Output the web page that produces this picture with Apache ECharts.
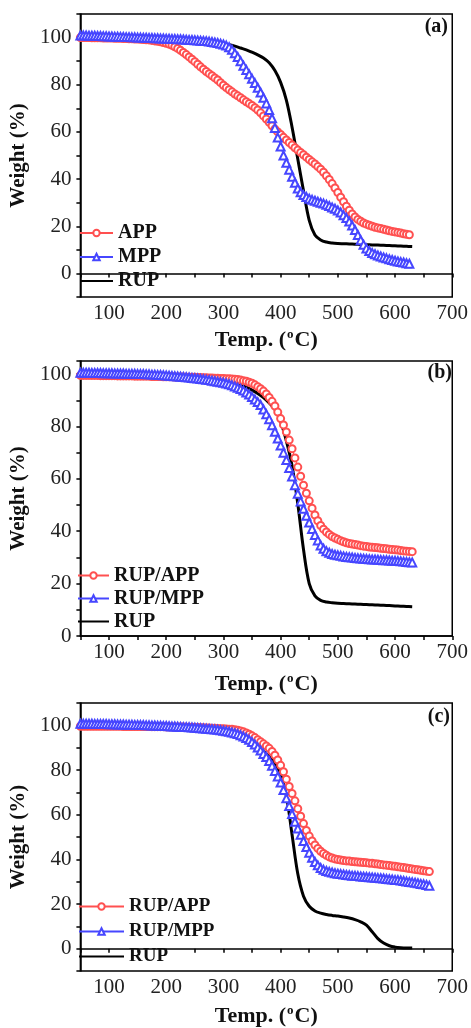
<!DOCTYPE html>
<html>
<head>
<meta charset="utf-8">
<script src="https://cdn.jsdelivr.net/npm/echarts@6/dist/echarts.min.js"></script>
<style>html,body{margin:0;padding:0;background:#fff}#c{width:471px;height:1028px}</style>
</head>
<body>
<div id="c"></div>
<script>
// Temperature grids (°C)
var temps5 = [50,55,60,65,70,75,80,85,90,95,100,105,110,115,120,125,130,135,140,145,150,155,160,165,170,175,180,185,190,195,200,205,210,215,220,225,230,235,240,245,250,255,260,265,270,275,280,285,290,295,300,305,310,315,320,325,330,335,340,345,350,355,360,365,370,375,380,385,390,395,400,405,410,415,420,425,430,435,440,445,450,455,460,465,470,475,480,485,490,495,500,505,510,515,520,525,530,535,540,545,550,555,560,565,570,575,580,585,590,595,600,605,610,615,620,625,630,635,640,645,650,655,660];
var temps10 = [50,60,70,80,90,100,110,120,130,140,150,160,170,180,190,200,210,220,230,240,250,260,270,280,290,300,310,320,330,340,350,360,370,380,390,400,410,420,430,440,450,460,470,480,490,500,510,520,530,540,550,560,570,580,590,600,610,620,630];

// Panel (a)
var aAPP = [100.0,100.0,100.0,100.0,99.9,99.9,99.9,99.9,99.8,99.8,99.8,99.8,99.7,99.7,99.7,99.6,99.6,99.5,99.5,99.4,99.4,99.3,99.2,99.1,99.0,98.8,98.6,98.4,98.2,97.9,97.6,97.2,96.7,96.1,95.4,94.6,93.7,92.8,91.8,90.8,89.8,88.7,87.6,86.6,85.6,84.7,83.8,82.9,82.0,80.9,79.8,78.8,77.9,77.0,76.1,75.3,74.5,73.6,72.8,72.0,71.2,70.3,69.3,68.1,66.8,65.5,64.1,62.6,61.2,60.0,58.9,57.7,56.6,55.5,54.4,53.3,52.3,51.3,50.3,49.3,48.3,47.3,46.4,45.3,44.2,42.9,41.4,39.8,38.1,36.2,34.3,32.3,30.4,28.5,26.8,25.2,23.9,22.9,22.1,21.4,20.9,20.4,20.0,19.6,19.3,19.0,18.7,18.4,18.1,17.8,17.6,17.4,17.1,16.8,16.6,16.4];
var aMPP = [100.9,100.9,100.9,100.8,100.8,100.8,100.7,100.7,100.6,100.6,100.5,100.5,100.4,100.4,100.3,100.3,100.2,100.2,100.1,100.1,100.0,100.0,99.9,99.9,99.8,99.8,99.7,99.7,99.6,99.6,99.5,99.5,99.4,99.4,99.3,99.3,99.2,99.1,99.0,99.0,98.9,98.8,98.7,98.6,98.5,98.3,98.1,97.9,97.7,97.4,97.1,96.6,95.9,94.8,93.4,91.8,90.0,88.1,86.3,84.4,82.5,80.7,78.7,76.7,74.5,72.1,69.3,65.8,61.7,57.6,53.8,50.0,46.9,44.0,41.0,38.4,36.0,34.4,33.2,32.4,31.7,31.2,30.8,30.4,30.0,29.6,29.1,28.6,28.0,27.4,26.7,25.8,24.7,23.5,22.0,20.3,18.4,16.3,14.1,12.2,10.6,9.5,8.7,8.1,7.6,7.2,6.8,6.4,6.0,5.7,5.4,5.1,4.8,4.6,4.3,4.1];
var aRUP = [100.0,100.0,100.0,99.9,99.9,99.9,99.8,99.8,99.8,99.7,99.7,99.6,99.5,99.4,99.3,99.2,99.1,99.0,98.9,98.7,98.6,98.4,98.2,98.0,97.8,97.5,97.0,96.4,95.6,94.8,93.8,92.7,91.3,89.3,86.0,81.0,73.5,62.0,48.5,35.0,22.5,16.3,14.2,13.3,12.9,12.7,12.6,12.5,12.4,12.3,12.2,12.1,12.0,11.9,11.8,11.7,11.6,11.5,11.4];

// Panel (b)
var bAPP = [99.5,99.5,99.5,99.5,99.5,99.5,99.5,99.4,99.4,99.4,99.4,99.4,99.4,99.3,99.3,99.3,99.3,99.3,99.3,99.2,99.2,99.2,99.2,99.2,99.2,99.1,99.1,99.1,99.1,99.0,99.0,99.0,99.0,98.9,98.9,98.9,98.9,98.8,98.8,98.8,98.8,98.7,98.7,98.6,98.6,98.5,98.5,98.4,98.4,98.3,98.3,98.2,98.2,98.1,98.0,97.9,97.7,97.5,97.3,96.9,96.5,95.9,95.2,94.4,93.5,92.4,91.1,89.6,87.8,85.5,83.0,80.6,77.9,74.8,71.5,68.0,64.5,61.0,57.6,54.5,51.6,48.8,46.2,44.0,42.2,40.8,39.7,38.8,38.0,37.4,36.9,36.4,36.0,35.6,35.3,35.1,34.9,34.7,34.5,34.3,34.2,34.0,33.9,33.8,33.7,33.5,33.4,33.3,33.1,33.0,32.9,32.8,32.6,32.5,32.4,32.3,32.2];
var bMPP = [100.5,100.5,100.5,100.5,100.4,100.4,100.4,100.4,100.3,100.3,100.3,100.3,100.2,100.2,100.2,100.2,100.1,100.1,100.1,100.1,100.0,100.0,100.0,99.9,99.9,99.8,99.8,99.7,99.7,99.6,99.5,99.4,99.3,99.2,99.1,99.0,98.9,98.8,98.7,98.5,98.4,98.3,98.1,98.0,97.8,97.7,97.5,97.3,97.1,96.9,96.7,96.4,96.1,95.7,95.3,94.8,94.3,93.7,93.0,92.2,91.3,90.3,89.3,88.2,86.5,84.7,82.8,80.5,78.0,75.4,72.7,70.0,67.2,64.1,60.9,57.6,54.3,51.4,48.6,45.9,43.3,40.9,38.6,36.5,34.6,33.3,32.4,31.8,31.3,31.0,30.8,30.6,30.4,30.2,30.1,30.0,29.8,29.7,29.6,29.5,29.4,29.3,29.2,29.2,29.1,29.0,28.9,28.9,28.8,28.7,28.7,28.6,28.5,28.4,28.3,28.2,28.1];
var bRUP = [99.8,99.8,99.8,99.8,99.7,99.7,99.7,99.6,99.6,99.5,99.5,99.4,99.3,99.3,99.2,99.1,99.0,98.9,98.8,98.7,98.6,98.4,98.2,98.0,97.8,97.5,97.1,96.6,95.9,95.0,93.9,92.6,91.0,89.0,86.5,81.8,74.5,65.0,50.5,33.0,20.0,15.3,13.6,13.0,12.7,12.5,12.4,12.3,12.2,12.1,12.0,11.9,11.8,11.7,11.6,11.5,11.4,11.3,11.2];

// Panel (c)
var cAPP = [99.6,99.6,99.6,99.6,99.6,99.6,99.6,99.6,99.6,99.6,99.6,99.6,99.6,99.6,99.6,99.5,99.5,99.5,99.5,99.5,99.5,99.5,99.5,99.5,99.5,99.4,99.4,99.4,99.4,99.4,99.3,99.3,99.3,99.3,99.2,99.2,99.2,99.1,99.1,99.1,99.0,99.0,98.9,98.9,98.8,98.8,98.7,98.7,98.6,98.5,98.5,98.4,98.3,98.2,98.0,97.8,97.5,97.1,96.6,96.0,95.3,94.5,93.6,92.7,91.7,90.8,89.7,88.3,86.6,84.5,82.1,79.2,75.9,72.6,69.5,66.2,62.7,59.3,56.0,52.9,50.4,48.2,46.4,44.9,43.6,42.6,41.8,41.1,40.6,40.2,39.9,39.7,39.5,39.3,39.2,39.0,38.9,38.8,38.7,38.6,38.5,38.3,38.2,38.0,37.9,37.7,37.5,37.4,37.2,37.0,36.9,36.7,36.5,36.3,36.1,35.9,35.7,35.5,35.3,35.1,34.9,34.7,34.5];
var cMPP = [100.7,100.7,100.7,100.7,100.7,100.6,100.6,100.6,100.6,100.6,100.5,100.5,100.5,100.4,100.4,100.4,100.3,100.3,100.3,100.2,100.2,100.1,100.1,100.0,100.0,99.9,99.9,99.8,99.8,99.7,99.7,99.6,99.5,99.5,99.4,99.3,99.2,99.2,99.1,99.0,98.9,98.8,98.7,98.6,98.5,98.4,98.3,98.1,98.0,97.8,97.6,97.4,97.1,96.8,96.5,96.1,95.6,95.0,94.3,93.5,92.5,91.4,90.1,88.7,87.2,85.8,84.0,81.9,79.6,77.1,74.4,71.0,67.3,63.9,60.3,56.8,53.8,51.0,48.2,45.5,43.0,40.7,38.8,37.3,36.1,35.3,34.8,34.4,34.1,33.8,33.6,33.4,33.2,33.0,32.9,32.7,32.6,32.5,32.3,32.2,32.1,32.0,31.9,31.8,31.6,31.5,31.4,31.2,31.1,31.0,30.8,30.7,30.5,30.3,30.1,29.9,29.7,29.5,29.3,29.0,28.8,28.5,28.2];
var cRUP = [99.5,99.5,99.5,99.5,99.4,99.4,99.4,99.3,99.3,99.3,99.2,99.2,99.1,99.1,99.0,99.0,98.9,98.8,98.7,98.6,98.5,98.3,98.1,97.9,97.6,97.2,96.6,95.8,94.8,93.6,92.1,90.3,88.3,86.0,82.8,77.8,68.5,51.0,33.5,23.5,19.0,16.9,15.9,15.3,14.9,14.6,14.2,13.7,13.0,12.0,10.5,7.6,4.5,2.5,1.3,0.7,0.4,0.3,0.3];

// Labels
var panelLabels = ['(a)', '(b)', '(c)'];
var legendA = ['APP', 'MPP', 'RUP'];
var legendBC = ['RUP/APP', 'RUP/MPP', 'RUP'];
var xTicks = [100, 200, 300, 400, 500, 600, 700];
var yTicks = [0, 20, 40, 60, 80, 100];

var F = 'Liberation Serif, Times New Roman, serif';
var RED = '#ff5050', BLUE = '#4646ff', BLACK = '#000';

function pairs(t, v) { return v.map(function (y, i) { return [t[i], y]; }); }

var grids = [
  {left: 74, right: 18, top: 14, height: 283},
  {left: 72, right: 16, top: 361, height: 275},
  {left: 74, right: 18, top: 703, height: 271}
];
var yRanges = [[-10, 110], [0, 105], [-10, 110]];
var xNameGaps = [31, 36, 33];

var xAxes = [], yAxes = [];
grids.forEach(function (g, i) {
  g.show = true; g.borderColor = '#000'; g.borderWidth = 1.5; g.backgroundColor = 'transparent';
  xAxes.push({
    type: 'value', gridIndex: i, min: 50, max: 700, interval: 50,
    name: '{t|Temp. (}{s|o}{t|C)}', nameLocation: 'middle', nameGap: xNameGaps[i],
    nameTextStyle: {rich: {
      t: {fontFamily: F, fontWeight: 'bold', fontSize: 22, color: '#111', lineHeight: 24},
      s: {fontFamily: F, fontWeight: 'bold', fontSize: 13, color: '#111', lineHeight: 24, verticalAlign: 'top', padding: [0, 1, 8, 1]}
    }},
    axisLine: {show: true, lineStyle: {color: '#000', width: 1.5}},
    axisTick: {show: true, inside: false, length: 4, lineStyle: {color: '#000', width: 1.5}},
    splitLine: {show: false},
    axisLabel: {fontFamily: F, fontSize: 21, color: '#222', margin: 6,
      formatter: function (v) { return xTicks.indexOf(v) >= 0 ? String(v) : ''; }}
  });
  yAxes.push({
    type: 'value', gridIndex: i, min: yRanges[i][0], max: yRanges[i][1], interval: 10,
    name: 'Weight (%)', nameLocation: 'middle', nameGap: 38,
    nameTextStyle: {fontFamily: F, fontWeight: 'bold', fontSize: 21, color: '#111'},
    axisLine: {show: true, lineStyle: {color: '#000', width: 1.5}},
    axisTick: {show: true, inside: false, length: 4, lineStyle: {color: '#000', width: 1.5}},
    splitLine: {show: false},
    axisLabel: {fontFamily: F, fontSize: 21, color: '#222', margin: 9,
      formatter: function (v) { return yTicks.indexOf(v) >= 0 ? String(v) : ''; }}
  });
});

function markerSeries(name, idx, vals, color, sym, size) {
  return {
    name: name, type: 'line', xAxisIndex: idx, yAxisIndex: idx,
    data: pairs(temps5, vals), symbol: sym, symbolSize: size, showSymbol: true,
    lineStyle: {color: color, width: 1}, itemStyle: {color: color, borderColor: color, borderWidth: 1},
    emphasis: {disabled: true}, z: 3
  };
}
function rupSeries(idx, vals) {
  return {
    name: 'RUP', type: 'line', xAxisIndex: idx, yAxisIndex: idx,
    data: pairs(temps10, vals), symbol: 'line', showSymbol: false, smooth: 0.35,
    lineStyle: {color: BLACK, width: 3}, itemStyle: {color: BLACK},
    emphasis: {disabled: true}, z: 2
  };
}

var series = [
  rupSeries(0, aRUP),
  markerSeries('APP', 0, aAPP, RED, 'emptyCircle', 7),
  markerSeries('MPP', 0, aMPP, BLUE, 'emptyTriangle', 8),
  rupSeries(1, bRUP),
  markerSeries('RUP/APP', 1, bAPP, RED, 'emptyCircle', 7),
  markerSeries('RUP/MPP', 1, bMPP, BLUE, 'emptyTriangle', 8),
  rupSeries(2, cRUP),
  markerSeries('RUP/APP', 2, cAPP, RED, 'emptyCircle', 7),
  markerSeries('RUP/MPP', 2, cMPP, BLUE, 'emptyTriangle', 8)
];

function legend(data, left, top, w, fs, lh, tg) {
  return {
    data: data, orient: 'vertical', left: left, top: top, padding: 0,
    itemWidth: w, itemHeight: 8, itemGap: 0, itemTextGap: tg, selectedMode: false,
    textStyle: {fontFamily: F, fontWeight: 'bold', fontSize: fs, color: '#111', lineHeight: lh}
  };
}

var option = {
  animation: false,
  backgroundColor: '#fff',
  title: [
    {text: panelLabels[0], right: 23, top: 17, padding: 0, textStyle: {fontFamily: F, fontWeight: 'bold', fontSize: 20, color: '#111'}},
    {text: panelLabels[1], right: 19, top: 363, padding: 0, textStyle: {fontFamily: F, fontWeight: 'bold', fontSize: 20, color: '#111'}},
    {text: panelLabels[2], right: 21, top: 707, padding: 0, textStyle: {fontFamily: F, fontWeight: 'bold', fontSize: 20, color: '#111'}}
  ],
  legend: [
    legend(legendA, 79, 221, 33, 20, 24, 5),
    legend(legendBC, 77, 564, 31, 20, 23, 7),
    legend(legendBC, 78, 894, 45, 19, 25, 6)
  ],
  grid: grids,
  xAxis: xAxes,
  yAxis: yAxes,
  series: series
};

var chart = echarts.init(document.getElementById('c'), null, {renderer: 'canvas'});
chart.setOption(option);
</script>
</body>
</html>
